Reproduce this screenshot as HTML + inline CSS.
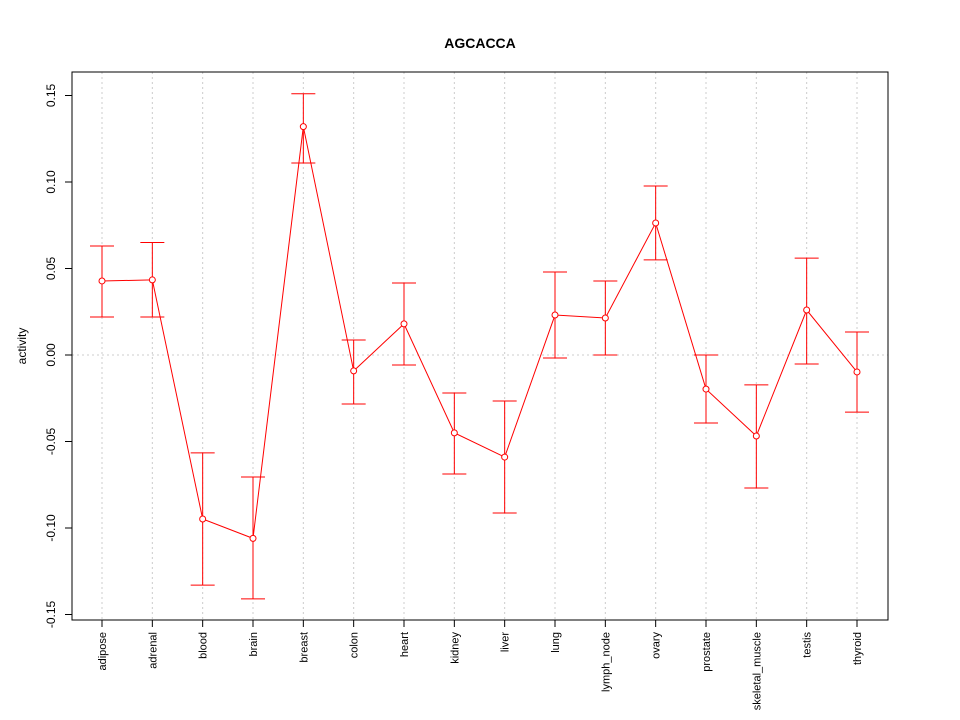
<!DOCTYPE html>
<html><head><meta charset="utf-8"><style>body{margin:0;background:#fff}svg{display:block;font-family:"Liberation Sans",sans-serif}</style></head>
<body>
<svg id="c" width="960" height="720">
<text x="480" y="48" text-anchor="middle" font-weight="bold" font-size="14">AGCACCA</text>
<text transform="translate(26,346) rotate(-90)" text-anchor="middle" font-size="12">activity</text>
<g id="grid"></g><g id="marks"></g><g id="axes"></g>
<rect x="72" y="72" width="816" height="548" fill="none" stroke="#000"/>
</svg>
<script>
const categories=["adipose","adrenal","blood","brain","breast","colon","heart","kidney","liver","lung","lymph_node","ovary","prostate","skeletal_muscle","testis","thyroid"];
const values=[0.0428,0.0434,-0.0948,-0.106,0.132,-0.0092,0.018,-0.045,-0.059,0.0231,0.0214,0.0763,-0.0197,-0.0468,0.026,-0.0098];
const upper=[0.063,0.065,-0.0566,-0.0705,0.151,0.0087,0.0416,-0.022,-0.0266,0.048,0.0428,0.0977,0,-0.0173,0.056,0.0133];
const lower=[0.022,0.022,-0.133,-0.141,0.111,-0.0283,-0.0058,-0.0688,-0.0913,-0.0017,0,0.055,-0.0393,-0.0769,-0.0052,-0.033];
const yTicks=[-0.15,-0.10,-0.05,0.00,0.05,0.10,0.15];
const yLabels=["-0.15","-0.10","-0.05","0.00","0.05","0.10","0.15"];
const NS="http://www.w3.org/2000/svg";
const xs=i=>102+i*(857-102)/15;
const ys=v=>355-v*1730;
function mk(p,t,a){const e=document.createElementNS(NS,t);for(const k in a)e.setAttribute(k,a[k]);p.appendChild(e);return e;}
const grid=document.getElementById('grid'),marks=document.getElementById('marks'),axes=document.getElementById('axes');
categories.forEach((c,i)=>{
 const g=mk(grid,'line',{x1:xs(i),x2:xs(i),y1:72,y2:620,stroke:'#ccc','stroke-dasharray':'2,3'});
 
 
 const t=mk(axes,'line',{x1:xs(i),x2:xs(i),y1:620,y2:627,stroke:'#000'});
 
 
 const l=mk(axes,'text',{transform:`translate(${xs(i)+4},632) rotate(-90)`,'text-anchor':'end','font-size':'11'});
 l.textContent=c;
 
 
});
const h=mk(grid,'line',{x1:72,x2:888,y1:ys(0),y2:ys(0),stroke:'#ccc','stroke-dasharray':'2,3'});


yTicks.forEach((v,i)=>{
 const t=mk(axes,'line',{x1:65,x2:72,y1:ys(v),y2:ys(v),stroke:'#000'});
 
 
 const l=mk(axes,'text',{transform:`translate(55,${ys(v)}) rotate(-90)`,'text-anchor':'middle','font-size':'12'});
 l.textContent=yLabels[i];
 
 
});
mk(axes,'line',{x1:72,x2:72,y1:ys(0.15),y2:ys(-0.15),stroke:'#000'});
mk(axes,'line',{x1:xs(0),x2:xs(15),y1:620,y2:620,stroke:'#000'});
const pts=values.map((v,i)=>xs(i)+','+ys(v)).join(' ');
const pl=mk(marks,'polyline',{points:pts,fill:'none',stroke:'red','stroke-width':1});


values.forEach((v,i)=>{
 const x=xs(i);
 const e=mk(marks,'path',{d:`M${x},${ys(upper[i])}V${ys(lower[i])}M${x-12},${ys(upper[i])}H${x+12}M${x-12},${ys(lower[i])}H${x+12}`,stroke:'red',fill:'none'});
 
 
 const c=mk(marks,'circle',{cx:x,cy:ys(v),r:3,fill:'#fff',stroke:'red'});
 
 
});
</script>
</body></html>
